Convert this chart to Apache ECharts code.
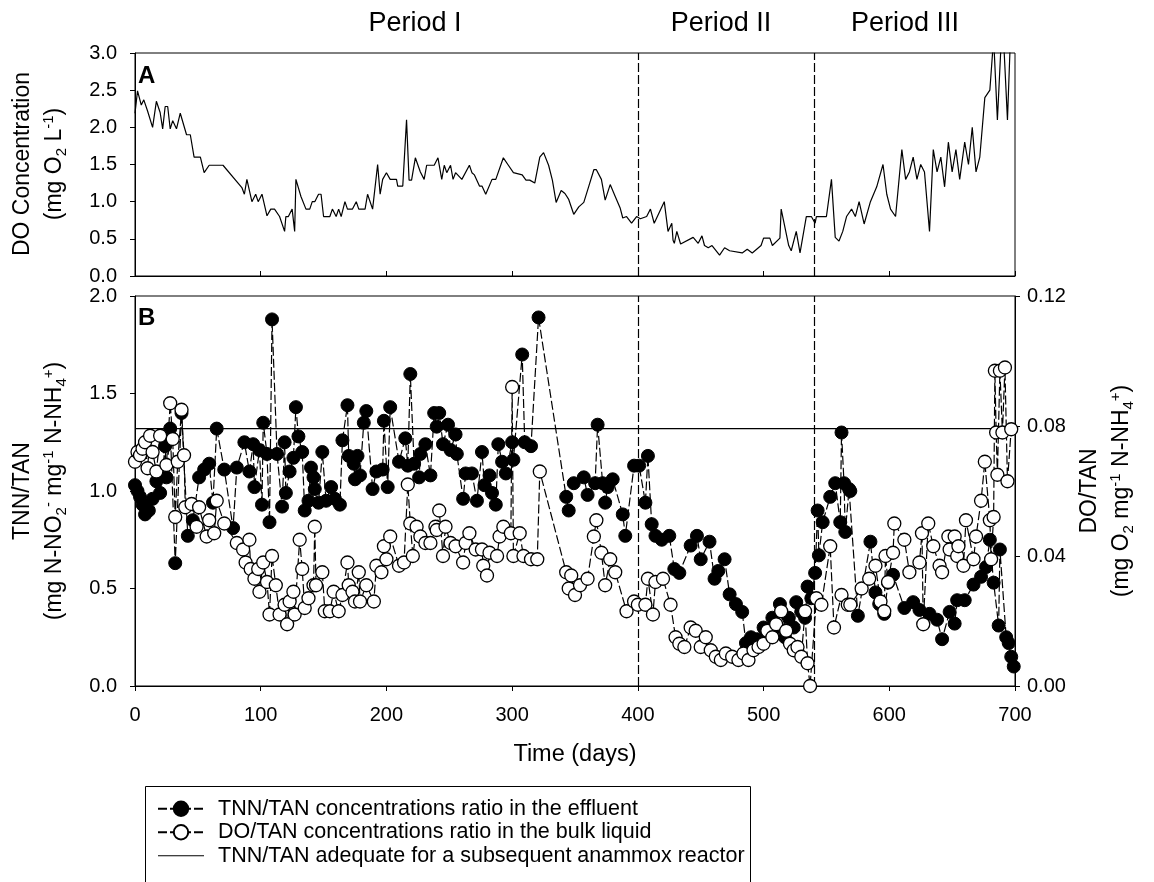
<!DOCTYPE html>
<html>
<head>
<meta charset="utf-8">
<script src="https://cdn.jsdelivr.net/npm/echarts@6/dist/echarts.min.js"></script>
<style>
  html, body { margin: 0; padding: 0; background: #fff; }
  #chart { width: 1154px; height: 882px; }
</style>
</head>
<body>
<div id="chart"></div>
<script>
// Panel A: dissolved oxygen in the reactor (mg O2/L)
const doDays = [0,2,5,7,10,14,17,20,22,24,26,28,30,33,36,37,41,44,47,52,55,59,70,85,87,89,93,96,98,101,105,108,111,115,119,120,122,125,127,128,132,136,139,141,143,146,148,150,155,157,160,162,164,167,169,173,176,178,183,185,189,193,195,197,200,203,208,209,213,216,218,220,223,227,230,232,238,241,244,246,248,251,253,255,260,266,268,270,274,276,279,284,287,293,297,301,308,311,314,318,322,325,329,332,335,339,342,345,346,349,353,357,361,365,367,371,374,375,378,382,386,388,391,395,399,402,407,410,413,421,424,427,428,429,431,434,444,448,451,453,456,459,465,469,473,483,487,491,498,500,505,507,513,514,520,522,526,529,534,538,541,542,550,554,557,560,563,566,570,573,576,580,585,590,595,598,601,605,610,613,616,619,622,625,628,632,635,638,641,644,647,650,653,656,660,663,666,669,672,676,680,683,686,690,694,697];
const doConc = [2.19,2.49,2.30,2.37,2.22,2.00,2.35,2.20,1.98,2.28,2.28,1.98,2.09,1.98,2.19,2.19,1.90,1.90,1.60,1.60,1.39,1.49,1.49,1.19,1.10,1.30,1.00,1.10,1.00,1.10,0.81,0.90,0.90,0.80,0.60,0.80,0.80,0.90,0.60,1.30,1.07,0.90,0.90,1.00,1.00,1.10,1.10,0.80,0.80,0.90,0.80,0.90,0.80,1.00,0.90,0.90,1.00,0.90,0.90,1.10,0.90,1.50,1.10,1.30,1.39,1.30,1.30,1.21,1.21,2.10,1.29,1.29,1.59,1.40,1.30,1.49,1.49,1.59,1.30,1.49,1.39,1.49,1.30,1.39,1.30,1.49,1.39,1.36,1.21,1.21,1.10,1.30,1.30,1.59,1.49,1.39,1.36,1.29,1.29,1.25,1.60,1.66,1.49,1.29,0.99,1.15,1.11,1.03,1.03,0.83,0.93,0.99,1.21,1.43,1.43,1.30,1.02,1.02,1.23,1.07,0.91,0.78,0.80,0.71,0.80,0.77,0.80,0.90,0.71,1.00,0.60,0.71,0.48,0.44,0.60,0.43,0.52,0.44,0.54,0.41,0.38,0.41,0.28,0.38,0.34,0.31,0.36,0.31,0.41,0.51,0.51,0.41,0.51,0.90,0.41,0.34,0.60,0.31,0.80,0.80,0.71,0.80,0.80,1.30,0.52,0.47,0.60,0.80,0.90,0.80,1.00,0.70,1.00,1.20,1.50,1.10,0.90,0.80,1.70,1.30,1.40,1.60,1.30,1.50,1.40,0.60,1.70,1.40,1.60,1.20,1.80,1.40,1.70,1.30,1.80,1.50,2.00,1.40,1.60,2.40,2.50,3.20,2.10,3.50,2.10,3.50];

// Panel B: TNN/TAN ratio in the effluent (left axis)
const tnnDays = [0,2,4,6,8,11,14,17,20,24,25,28,32,37,42,46,51,55,59,62,65,71,78,81,87,91,94,95,99,101,102,105,107,109,113,117,119,120,123,126,128,130,133,135,138,140,142,143,146,149,152,156,159,163,165,169,170,174,175,177,179,182,184,189,192,197,198,201,203,210,215,217,219,222,226,227,231,235,238,240,242,245,249,251,255,256,261,263,268,272,276,278,282,284,287,289,292,295,300,301,308,310,315,321,343,345,349,357,360,366,368,372,374,376,380,388,390,397,401,406,408,411,414,419,425,429,433,442,447,450,457,461,464,469,473,478,483,486,490,495,500,503,507,510,513,517,520,524,526,530,533,535,538,541,543,544,547,553,557,561,562,564,565,568,569,575,585,589,592,596,599,603,612,619,624,632,638,642,648,652,654,660,667,673,677,680,683,687,688,693,695,697,699];
const tnnRatio = [1.03,1.00,0.97,0.93,0.88,0.90,0.96,1.05,0.99,1.23,1.07,1.32,0.63,1.40,0.77,0.85,1.07,1.11,1.14,0.94,1.32,1.11,0.81,1.12,1.25,1.10,1.24,1.02,1.21,0.93,1.35,1.19,0.84,1.88,1.19,0.92,1.25,0.99,1.10,1.17,1.43,1.28,1.20,0.90,0.95,1.12,1.07,1.01,0.94,1.20,0.95,1.02,0.96,0.93,1.26,1.44,1.18,1.14,1.06,1.18,1.08,1.35,1.41,1.01,1.10,1.11,1.36,1.02,1.43,1.15,1.27,1.13,1.60,1.14,1.07,1.19,1.24,1.08,1.40,1.33,1.40,1.24,1.34,1.21,1.29,1.19,0.96,1.09,1.09,0.95,1.20,1.03,1.08,0.99,0.93,1.24,1.15,1.09,1.25,1.16,1.70,1.25,1.23,1.89,0.97,0.90,1.04,1.07,0.98,1.04,1.34,1.04,0.94,1.02,1.06,0.88,0.77,1.13,1.13,0.94,1.18,0.83,0.77,0.75,0.77,0.60,0.58,0.72,0.77,0.65,0.74,0.55,0.59,0.65,0.47,0.42,0.38,0.22,0.25,0.24,0.30,0.28,0.35,0.30,0.42,0.25,0.35,0.30,0.43,0.38,0.35,0.51,0.45,0.58,0.90,0.67,0.84,0.97,1.04,0.84,1.30,1.04,0.79,1.01,1.00,0.36,0.74,0.48,0.42,0.37,0.53,0.57,0.40,0.43,0.39,0.37,0.34,0.24,0.38,0.32,0.44,0.44,0.52,0.56,0.61,0.75,0.53,0.31,0.70,0.25,0.22,0.15,0.10];

// Panel B: DO/TAN ratio in the bulk liquid (right axis)
const doTanDays = [0,2,4,6,8,10,12,14,17,20,25,28,30,32,34,37,39,40,45,49,51,57,59,63,65,71,81,86,88,91,92,95,98,99,102,105,107,109,112,115,119,121,123,126,127,131,133,135,138,142,143,144,149,151,155,158,162,165,169,170,173,175,178,179,184,190,192,196,198,200,203,210,214,217,219,221,224,227,231,235,239,240,242,245,247,251,255,261,263,266,271,276,277,280,282,288,290,293,299,300,301,306,309,315,320,322,343,345,347,350,354,360,365,367,371,374,378,382,391,397,400,406,408,412,414,420,426,430,433,437,442,446,450,454,458,462,466,470,475,480,484,488,492,496,500,503,507,510,514,518,521,524,527,530,533,535,537,542,546,553,556,562,567,569,578,584,589,593,596,597,599,603,604,612,616,624,626,627,631,635,640,642,647,648,652,654,655,659,661,667,669,673,676,680,681,683,684,685,686,688,690,692,694,697];
const doTanRatio = [0.069,0.072,0.071,0.073,0.075,0.067,0.077,0.072,0.066,0.077,0.068,0.087,0.076,0.052,0.069,0.085,0.071,0.055,0.056,0.049,0.055,0.046,0.051,0.047,0.057,0.050,0.044,0.042,0.038,0.045,0.036,0.033,0.036,0.029,0.038,0.032,0.022,0.040,0.031,0.022,0.025,0.019,0.026,0.029,0.022,0.045,0.036,0.024,0.027,0.031,0.049,0.031,0.035,0.023,0.023,0.029,0.023,0.028,0.038,0.031,0.029,0.026,0.035,0.026,0.031,0.026,0.037,0.035,0.043,0.039,0.046,0.037,0.038,0.062,0.050,0.040,0.049,0.046,0.044,0.044,0.049,0.048,0.054,0.040,0.049,0.044,0.043,0.038,0.044,0.047,0.042,0.042,0.037,0.034,0.041,0.040,0.046,0.049,0.047,0.092,0.040,0.047,0.040,0.039,0.039,0.066,0.035,0.030,0.034,0.028,0.031,0.033,0.046,0.051,0.041,0.031,0.039,0.035,0.023,0.026,0.025,0.025,0.033,0.022,0.032,0.033,0.025,0.015,0.013,0.012,0.018,0.017,0.012,0.015,0.011,0.009,0.008,0.010,0.009,0.008,0.010,0.008,0.011,0.012,0.013,0.017,0.015,0.019,0.023,0.017,0.013,0.011,0.012,0.009,0.023,0.007,0.000,0.027,0.025,0.043,0.018,0.028,0.025,0.025,0.030,0.033,0.037,0.026,0.023,0.040,0.032,0.041,0.050,0.045,0.035,0.038,0.047,0.019,0.050,0.043,0.037,0.035,0.046,0.042,0.046,0.040,0.043,0.037,0.051,0.039,0.046,0.057,0.069,0.051,0.039,0.052,0.097,0.078,0.065,0.097,0.078,0.098,0.063,0.079];

// TNN/TAN ratio suited to a following anammox stage
const anammoxRatio = 1.32;
// Boundaries between operating periods (days)
const periodBounds = [400, 540];
const periodNames = ['Period I', 'Period II', 'Period III'];

const seriesNames = [
  'TNN/TAN concentrations ratio in the effluent',
  'DO/TAN concentrations ratio in the bulk liquid',
  'TNN/TAN adequate for a subsequent anammox reactor'
];

const zip = (xs, ys) => xs.map((x, i) => [x, ys[i]]);

const FONT = '"Liberation Sans", Arial, sans-serif';
const dash = [9, 3];

const boundaryLines = {
  silent: true,
  symbol: ['none', 'none'],
  label: { show: false },
  lineStyle: { color: '#000', width: 1.2, type: dash },
  data: periodBounds.map(d => ({ xAxis: d }))
};

const tickLabel = { fontFamily: FONT, fontSize: 20, color: '#000' };

const chart = echarts.init(document.getElementById('chart'), null, { renderer: 'canvas' });

const option = {
  backgroundColor: '#fff',
  animation: false,
  textStyle: { fontFamily: FONT },
  grid: [
    { left: 135, right: 139, top: 53, height: 223, show: true, borderColor: '#000', borderWidth: 1, backgroundColor: 'transparent' },
    { left: 135, right: 139, top: 296, height: 390, show: true, borderColor: '#000', borderWidth: 1, backgroundColor: 'transparent' }
  ],
  xAxis: [
    { type: 'value', gridIndex: 0, min: 0, max: 700, interval: 100,
      axisLine: { lineStyle: { color: '#000' } },
      axisTick: { inside: true, length: 5, lineStyle: { color: '#000' } },
      axisLabel: { show: false }, splitLine: { show: false } },
    { type: 'value', gridIndex: 1, min: 0, max: 700, interval: 100,
      axisLine: { lineStyle: { color: '#000' } },
      axisTick: { length: 5, lineStyle: { color: '#000' } },
      axisLabel: Object.assign({ margin: 19 }, tickLabel),
      splitLine: { show: false } }
  ],
  yAxis: [
    { type: 'value', gridIndex: 0, min: 0, max: 3, interval: 0.5,
      axisLine: { show: true, lineStyle: { color: '#000' } },
      axisTick: { show: true, length: 5, lineStyle: { color: '#000' } },
      axisLabel: Object.assign({ margin: 18, formatter: v => v.toFixed(1) }, tickLabel),
      splitLine: { show: false } },
    { type: 'value', gridIndex: 1, min: 0, max: 2, interval: 0.5,
      axisLine: { show: true, lineStyle: { color: '#000' } },
      axisTick: { show: true, length: 5, lineStyle: { color: '#000' } },
      axisLabel: Object.assign({ margin: 18, formatter: v => v.toFixed(1) }, tickLabel),
      splitLine: { show: false } },
    { type: 'value', gridIndex: 1, position: 'right', min: 0, max: 0.12, interval: 0.04,
      axisLine: { show: true, lineStyle: { color: '#000' } },
      axisTick: { show: true, length: 5, lineStyle: { color: '#000' } },
      axisLabel: Object.assign({ margin: 12, formatter: v => v.toFixed(2) }, tickLabel),
      splitLine: { show: false } }
  ],
  legend: {
    orient: 'vertical',
    left: 145, top: 787,
    padding: [10, 0, 0, 12],
    itemWidth: 46, itemHeight: 18, itemGap: 0,
    selectedMode: false,
    textStyle: { fontFamily: FONT, fontSize: 21.5, color: '#000', lineHeight: 23.5, padding: [0, 0, 0, 9] },
    data: [
      { name: seriesNames[0] },
      { name: seriesNames[1] },
      { name: seriesNames[2], icon: 'path://M0,0L46,0L46,1.2L0,1.2Z' }
    ]
  },
  series: [
    {
      name: 'DO', type: 'line', xAxisIndex: 0, yAxisIndex: 0,
      data: zip(doDays, doConc), showSymbol: false, clip: true,
      lineStyle: { color: '#000', width: 1.2 }, itemStyle: { color: '#000' },
      markLine: boundaryLines, z: 3
    },
    {
      name: seriesNames[2], type: 'line', xAxisIndex: 1, yAxisIndex: 1,
      data: [[0, anammoxRatio], [700, anammoxRatio]], showSymbol: false, symbol: 'none',
      lineStyle: { color: '#000', width: 1.2 }, itemStyle: { color: '#000' },
      markLine: boundaryLines, z: 2
    },
    {
      name: seriesNames[0], type: 'line', xAxisIndex: 1, yAxisIndex: 1,
      data: zip(tnnDays, tnnRatio), symbol: 'circle', symbolSize: 13, showSymbol: true,
      lineStyle: { color: '#000', width: 1.2, type: dash },
      itemStyle: { color: '#000', borderColor: '#000', borderWidth: 1 }, z: 4
    },
    {
      name: seriesNames[1], type: 'line', xAxisIndex: 1, yAxisIndex: 2,
      data: zip(doTanDays, doTanRatio), symbol: 'circle', symbolSize: 13, showSymbol: true,
      lineStyle: { color: '#000', width: 1.2, type: dash },
      itemStyle: { color: '#fff', borderColor: '#000', borderWidth: 1.3 }, z: 5
    }
  ]
};

chart.setOption(option);

// Text overlays: period names, panel letters, axis titles with sub/superscripts
const titleFont = 23;
const rich = {
  n: { fontFamily: FONT, fontSize: titleFont, lineHeight: 28, fill: '#000' },
  sub: { fontFamily: FONT, fontSize: 15, lineHeight: 14, verticalAlign: 'bottom', fill: '#000' },
  sup: { fontFamily: FONT, fontSize: 15, lineHeight: 14, verticalAlign: 'top', fill: '#000' }
};
function vText(x, y, text) {
  return { type: 'text', x, y, rotation: Math.PI / 2, silent: true,
    style: { text, rich, align: 'center', verticalAlign: 'middle', font: titleFont + 'px ' + FONT, fill: '#000' } };
}
function hText(x, y, text, size, weight) {
  return { type: 'text', x, y, silent: true,
    style: { text, align: 'center', verticalAlign: 'middle', font: (weight || 'normal') + ' ' + size + 'px ' + FONT, fill: '#000' } };
}

const periodLabelX = [415, 721, 905];
chart.setOption({
  graphic: [
    // frame around the legend; it runs on past the lower edge of the page
    { type: 'rect', silent: true, z: -1,
      shape: { x: 145.5, y: 786.5, width: 605, height: 140 },
      style: { fill: '#fff', stroke: '#000', lineWidth: 1 } },
    hText(periodLabelX[0], 24, periodNames[0], 27),
    hText(periodLabelX[1], 24, periodNames[1], 27),
    hText(periodLabelX[2], 24, periodNames[2], 27),
    { type: 'text', x: 138, y: 64, silent: true, style: { text: 'A', font: 'bold 24px ' + FONT, fill: '#000' } },
    { type: 'text', x: 138, y: 306, silent: true, style: { text: 'B', font: 'bold 24px ' + FONT, fill: '#000' } },
    vText(23, 164, '{n|DO Concentration}'),
    vText(55, 164, '{n|(mg O}{sub|2}{n| L}{sup|-1}{n|)}'),
    vText(23, 491, '{n|TNN/TAN}'),
    vText(55, 491, '{n|(mg N-NO}{sub|2}{sup|-}{n| mg}{sup|-1}{n| N-NH}{sub|4}{sup|+}{n|)}'),
    vText(1090, 491, '{n|DO/TAN}'),
    vText(1122, 491, '{n|(mg O}{sub|2}{n| mg}{sup|-1}{n| N-NH}{sub|4}{sup|+}{n|)}'),
    hText(575, 755, 'Time (days)', 23.5)
  ]
});
</script>
</body>
</html>
